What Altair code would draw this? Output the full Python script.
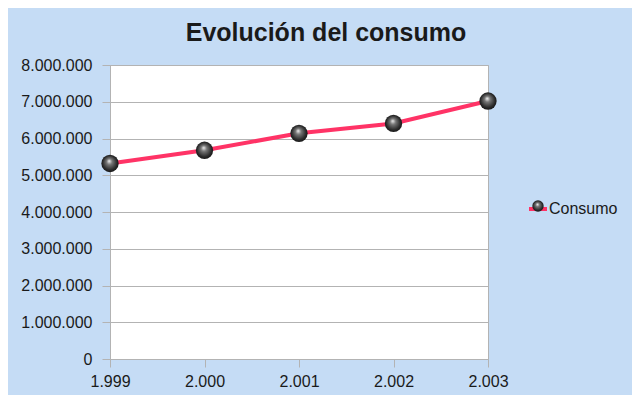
import altair as alt
import pandas as pd

years = [1999, 2000, 2001, 2002, 2003]
consumo = [5320000, 5680000, 6140000, 6410000, 7020000]
serie = ["Consumo"] * 5
y_ticks = [0, 1000000, 2000000, 3000000, 4000000, 5000000, 6000000, 7000000, 8000000]

df = pd.DataFrame({"anio": years, "consumo": consumo, "serie": serie, "serie2": serie})

FONT = "Liberation Sans"
GRID = "#b3b3b3"
LINE = "#ff3366"

sphere = alt.RadialGradient(
    gradient="radial",
    stops=[
        alt.GradientStop(color="#f5f5f5", offset=0),
        alt.GradientStop(color="#777777", offset=0.3),
        alt.GradientStop(color="#2a2a2a", offset=0.75),
        alt.GradientStop(color="#111111", offset=1),
    ],
    x1=0.45, y1=0.35, r1=0, x2=0.5, y2=0.5, r2=0.55,
)

fmt = "replace(format(datum.value, ','), regexp(',', 'g'), '.')"

x = alt.X(
    "anio:Q",
    scale=alt.Scale(domain=[1999, 2003], nice=False, zero=False),
    axis=alt.Axis(values=years, labelExpr=fmt, title=None, grid=False, labelFlush=False,
                  tickSize=8, labelPadding=6, labelFontSize=16, labelFont=FONT,
                  labelColor="#1a1a1a", domainColor=GRID, tickColor=GRID),
)
y = alt.Y(
    "consumo:Q",
    scale=alt.Scale(domain=[0, 8000000], nice=False),
    axis=alt.Axis(values=y_ticks, labelExpr=fmt, title=None, grid=True, gridColor=GRID,
                  tickSize=8, labelPadding=10, labelFontSize=16, labelFont=FONT,
                  labelColor="#1a1a1a", domainColor=GRID, tickColor=GRID),
)

base = alt.Chart(df)

line = base.mark_line(strokeWidth=4).encode(
    x=x, y=y,
    stroke=alt.Stroke("serie:N", scale=alt.Scale(range=[LINE]), title=None,
                      legend=alt.Legend(orient="none", legendX=417, legendY=133,
                                        symbolType="stroke", symbolSize=324,
                                        symbolStrokeWidth=4, labelFontSize=16,
                                        labelFont=FONT, labelColor="#1a1a1a",
                                        labelOffset=0, padding=0)),
)

points = base.mark_point(filled=True, fill=sphere, size=300, opacity=1, strokeWidth=0).encode(
    x=x, y=y,
    shape=alt.Shape("serie2:N", scale=alt.Scale(range=["circle"]), title=None,
                    legend=alt.Legend(orient="none", legendX=420, legendY=133,
                                      symbolSize=130, symbolFillColor="#333333",
                                      symbolStrokeWidth=0, symbolOpacity=1,
                                      labelExpr="''", labelFontSize=16, padding=0)),
)

chart = (
    alt.layer(line, points)
    .properties(
        width=378, height=294,
        autosize=alt.AutoSizeParams(type="none"),
        padding={"left": 102, "top": 57, "right": 144, "bottom": 36},
        title=alt.TitleParams("Evolución del consumo", fontSize=25, font=FONT,
                              fontWeight="bold", color="#1a1a1a", anchor="middle",
                              dx=27, offset=-9, baseline="alphabetic"),
    )
    .configure(background="#c5dcf5")
    .configure_view(fill="white", stroke=GRID)
)

chart.save("out.html", embed_options={"renderer": "svg", "actions": False})
